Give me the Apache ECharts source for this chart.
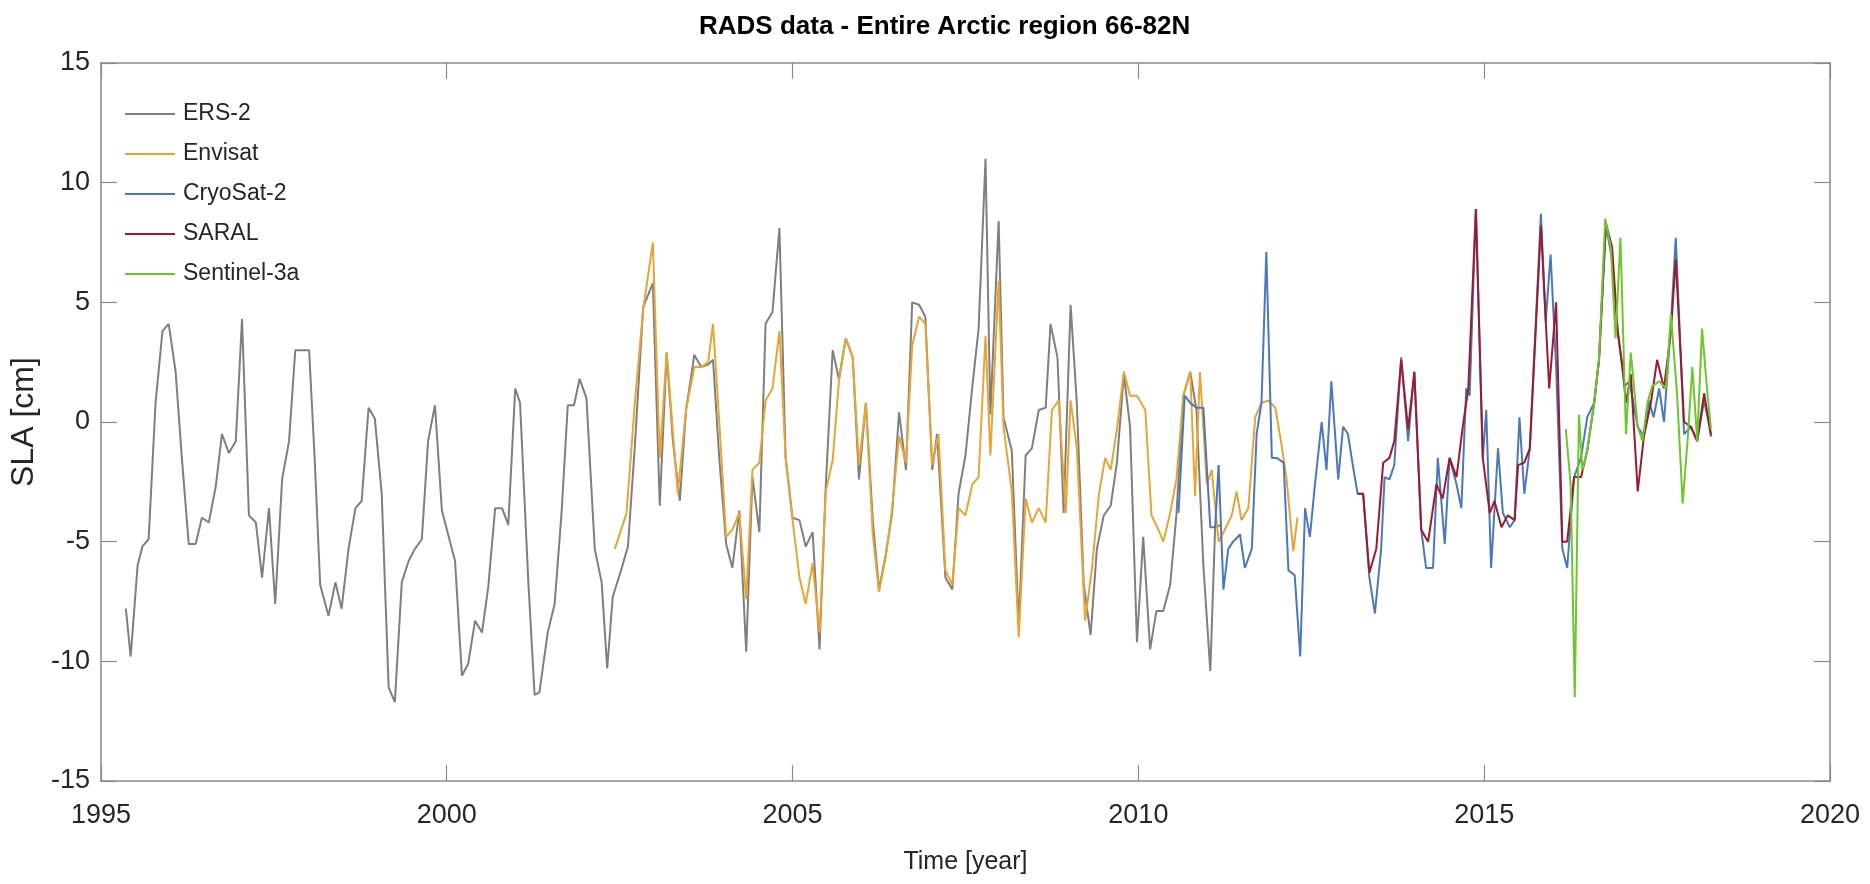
<!DOCTYPE html>
<html>
<head>
<meta charset="utf-8">
<title>RADS data - Entire Arctic region 66-82N</title>
<script src="https://cdn.jsdelivr.net/npm/echarts/dist/echarts.min.js"></script>
<style>
  html, body { margin: 0; padding: 0; background: #fff; }
  #chart { width: 1870px; height: 884px; }
</style>
</head>
<body>
<div id="chart"></div>
<script>
// monthly SLA [cm] as [year, value]
const ers2 = [
  [1995.36,-7.8],[1995.43,-9.8],[1995.53,-6.0],[1995.60,-5.2],[1995.69,-4.9],[1995.79,0.8],[1995.89,3.8],[1995.98,4.1],
  [1996.08,2.1],[1996.17,-1.5],[1996.27,-5.1],[1996.37,-5.1],[1996.46,-4.0],[1996.56,-4.2],[1996.66,-2.7],[1996.75,-0.5],
  [1996.85,-1.3],[1996.95,-0.8],[1997.04,4.3],[1997.14,-3.9],[1997.24,-4.2],[1997.33,-6.5],[1997.43,-3.6],[1997.52,-7.6],
  [1997.62,-2.4],[1997.72,-0.8],[1997.81,3.0],[1997.91,3.0],[1998.01,3.0],[1998.09,-1.5],[1998.17,-6.8],[1998.29,-8.1],
  [1998.39,-6.7],[1998.48,-7.8],[1998.58,-5.3],[1998.68,-3.6],[1998.77,-3.3],[1998.87,0.6],[1998.96,0.15],[1999.06,-3.0],
  [1999.16,-11.1],[1999.25,-11.7],[1999.35,-6.7],[1999.45,-5.8],[1999.54,-5.3],[1999.64,-4.9],[1999.73,-0.8],[1999.83,0.7],
  [1999.93,-3.7],[2000.02,-4.7],[2000.12,-5.8],[2000.22,-10.6],[2000.31,-10.1],[2000.41,-8.3],[2000.51,-8.8],[2000.60,-6.9],
  [2000.70,-3.6],[2000.80,-3.6],[2000.89,-4.3],[2000.99,1.4],[2001.06,0.8],[2001.18,-6.7],[2001.27,-11.4],[2001.34,-11.3],
  [2001.46,-8.8],[2001.56,-7.6],[2001.66,-3.8],[2001.75,0.7],[2001.84,0.7],[2001.92,1.8],[2002.02,1.0],[2002.14,-5.3],
  [2002.24,-6.7],[2002.32,-10.3],[2002.40,-7.3],[2002.52,-6.2],[2002.62,-5.2],[2002.72,-1.0],[2002.84,4.8],[2002.98,5.8],
  [2003.08,-3.5],[2003.18,2.9],[2003.27,-0.8],[2003.37,-3.3],[2003.46,0.5],[2003.58,2.8],[2003.68,2.3],[2003.78,2.4],
  [2003.85,2.6],[2003.94,-1.5],[2004.04,-5.1],[2004.13,-6.1],[2004.23,-3.7],[2004.33,-9.6],[2004.42,-2.3],[2004.52,-4.6],
  [2004.61,4.1],[2004.71,4.6],[2004.81,8.1],[2004.90,-1.5],[2005.00,-4.0],[2005.10,-4.1],[2005.19,-5.2],[2005.29,-4.6],
  [2005.39,-9.5],[2005.48,-2.7],[2005.58,3.0],[2005.67,1.8],[2005.77,3.5],[2005.87,2.7],[2005.96,-2.4],[2006.06,0.8],
  [2006.16,-4.1],[2006.25,-7.0],[2006.35,-5.5],[2006.44,-3.8],[2006.54,0.4],[2006.64,-2.0],[2006.73,5.0],[2006.83,4.9],
  [2006.92,4.4],[2007.02,-2.0],[2007.09,-0.5],[2007.21,-6.5],[2007.31,-7.0],[2007.40,-3.0],[2007.50,-1.4],[2007.60,1.5],
  [2007.69,3.9],[2007.79,11.0],[2007.86,0.3],[2007.98,8.4],[2008.05,0.2],[2008.17,-1.2],[2008.27,-8.5],[2008.37,-1.4],
  [2008.46,-1.1],[2008.56,0.5],[2008.66,0.6],[2008.73,4.1],[2008.83,2.7],[2008.92,-3.8],[2009.02,4.9],[2009.11,0.8],
  [2009.21,-6.8],[2009.31,-8.9],[2009.40,-5.3],[2009.50,-3.9],[2009.60,-3.5],[2009.69,-1.7],[2009.79,2.0],[2009.88,-0.2],
  [2009.98,-9.2],[2010.07,-4.8],[2010.17,-9.5],[2010.26,-7.9],[2010.36,-7.9],[2010.46,-6.8],[2010.55,-3.9],[2010.65,1.1],
  [2010.75,2.1],[2010.84,0.5],[2010.94,-6.0],[2011.04,-10.4],[2011.11,-4.4],[2011.19,-4.3]
];

const envisat = [
  [2002.43,-5.3],[2002.51,-4.6],[2002.60,-3.8],[2002.72,0.8],[2002.84,4.7],[2002.98,7.5],[2003.08,-1.5],[2003.18,2.9],
  [2003.34,-3.0],[2003.46,0.5],[2003.58,2.3],[2003.68,2.3],[2003.78,2.5],[2003.85,4.1],[2003.94,0.0],[2004.04,-4.8],
  [2004.13,-4.5],[2004.23,-3.8],[2004.33,-7.4],[2004.42,-2.0],[2004.52,-1.7],[2004.61,0.9],[2004.71,1.4],[2004.81,3.8],
  [2004.90,-1.5],[2005.00,-4.1],[2005.10,-6.5],[2005.19,-7.6],[2005.29,-5.9],[2005.39,-8.8],[2005.48,-2.9],[2005.58,-1.6],
  [2005.67,1.7],[2005.77,3.5],[2005.87,2.7],[2005.96,-1.8],[2006.06,0.8],[2006.16,-4.7],[2006.25,-7.1],[2006.35,-5.6],
  [2006.44,-3.6],[2006.54,-0.6],[2006.64,-1.7],[2006.73,3.2],[2006.83,4.4],[2006.92,4.1],[2007.02,-1.8],[2007.11,-0.5],
  [2007.21,-6.2],[2007.31,-6.8],[2007.40,-3.6],[2007.50,-3.9],[2007.60,-2.6],[2007.69,-2.3],[2007.79,3.6],[2007.86,-1.4],
  [2007.98,5.9],[2008.05,-0.2],[2008.17,-2.9],[2008.27,-9.0],[2008.37,-3.2],[2008.46,-4.2],[2008.56,-3.6],[2008.66,-4.2],
  [2008.75,0.5],[2008.85,0.9],[2008.95,-3.8],[2009.02,0.9],[2009.11,-1.1],[2009.23,-8.3],[2009.33,-6.1],[2009.43,-3.0],
  [2009.52,-1.5],[2009.60,-2.0],[2009.69,-0.3],[2009.79,2.1],[2009.88,1.1],[2009.98,1.1],[2010.10,0.5],[2010.19,-3.9],
  [2010.29,-4.5],[2010.36,-5.0],[2010.46,-3.8],[2010.55,-2.4],[2010.65,1.1],[2010.75,2.1],[2010.82,-3.1],[2010.89,2.1],
  [2010.99,-2.6],[2011.06,-2.0],[2011.16,-5.0],[2011.25,-4.5],[2011.35,-3.9],[2011.42,-2.9],[2011.49,-4.1],[2011.59,-3.6],
  [2011.69,0.2],[2011.78,0.8],[2011.88,0.9],[2011.98,0.6],[2012.05,-0.6],[2012.14,-2.3],[2012.24,-5.4],[2012.30,-4.0]
];

const cryosat2 = [
  [2010.58,-3.8],[2010.67,1.1],[2010.75,0.8],[2010.84,0.6],[2010.94,0.6],[2011.04,-4.4],[2011.11,-4.4],[2011.16,-1.8],
  [2011.23,-7.0],[2011.30,-5.3],[2011.37,-5.0],[2011.47,-4.7],[2011.54,-6.1],[2011.64,-5.3],[2011.71,-0.5],[2011.78,0.8],
  [2011.85,7.1],[2011.93,-1.5],[2012.00,-1.5],[2012.10,-1.7],[2012.17,-6.2],[2012.26,-6.4],[2012.34,-9.8],[2012.41,-3.6],
  [2012.48,-4.8],[2012.55,-2.7],[2012.65,0.0],[2012.72,-2.0],[2012.79,1.7],[2012.89,-2.4],[2012.96,-0.2],[2013.03,-0.5],
  [2013.10,-1.8],[2013.17,-3.0],[2013.25,-3.0],[2013.34,-6.5],[2013.42,-8.0],[2013.51,-5.3],[2013.56,-2.3],[2013.63,-2.4],
  [2013.70,-1.8],[2013.80,2.7],[2013.90,-0.8],[2013.99,2.1],[2014.09,-4.5],[2014.16,-6.1],[2014.26,-6.1],[2014.33,-1.5],
  [2014.43,-5.1],[2014.50,-1.5],[2014.60,-2.6],[2014.67,-3.6],[2014.74,1.4],[2014.79,1.1],[2014.88,8.9],[2014.98,-1.5],
  [2015.03,0.5],[2015.10,-6.1],[2015.20,-1.1],[2015.27,-3.8],[2015.37,-4.4],[2015.44,-4.1],[2015.51,0.2],[2015.58,-3.0],
  [2015.66,-1.1],[2015.82,8.7],[2015.89,4.2],[2015.96,7.0],[2016.04,2.3],[2016.13,-5.3],[2016.20,-6.1],[2016.30,-2.3],
  [2016.40,-1.5],[2016.49,0.2],[2016.59,0.8],[2016.66,2.6],[2016.76,8.2],[2016.85,6.8],[2016.93,3.8],[2017.03,1.5],
  [2017.10,1.7],[2017.22,-0.2],[2017.31,-0.6],[2017.38,0.9],[2017.45,0.2],[2017.53,1.4],[2017.60,0.0],[2017.70,4.1],
  [2017.77,7.7],[2017.89,-0.5],[2017.99,-0.2],[2018.08,-0.8],[2018.18,0.9],[2018.28,-0.5]
];

const saral = [
  [2013.17,-3.0],[2013.25,-3.0],[2013.34,-6.3],[2013.44,-5.3],[2013.54,-1.7],[2013.63,-1.5],[2013.70,-0.8],[2013.80,2.6],
  [2013.90,-0.3],[2013.99,2.1],[2014.09,-4.5],[2014.19,-5.0],[2014.31,-2.6],[2014.40,-3.2],[2014.50,-1.5],[2014.60,-2.3],
  [2014.69,-0.2],[2014.77,1.4],[2014.88,8.9],[2014.98,-1.5],[2015.08,-3.8],[2015.15,-3.3],[2015.25,-4.4],[2015.34,-3.9],
  [2015.44,-4.1],[2015.49,-1.8],[2015.58,-1.7],[2015.66,-1.1],[2015.82,8.2],[2015.94,1.4],[2016.04,5.0],[2016.13,-5.0],
  [2016.20,-5.0],[2016.30,-2.3],[2016.40,-2.3],[2016.49,-1.2],[2016.59,0.8],[2016.66,2.6],[2016.76,8.3],[2016.85,7.3],
  [2016.93,3.8],[2017.00,2.3],[2017.05,0.8],[2017.12,2.0],[2017.22,-2.9],[2017.31,-0.6],[2017.41,0.8],[2017.50,2.6],
  [2017.60,1.4],[2017.70,3.8],[2017.77,6.8],[2017.89,0.0],[2017.99,-0.2],[2018.08,-0.8],[2018.18,1.2],[2018.28,-0.6]
];

const sentinel3a = [
  [2016.18,-0.3],[2016.25,-2.6],[2016.31,-11.5],[2016.37,0.3],[2016.42,-2.0],[2016.49,-1.2],[2016.59,0.8],[2016.66,2.6],
  [2016.75,8.5],[2016.83,7.3],[2016.90,3.5],[2016.97,7.7],[2017.05,-0.5],[2017.12,2.9],[2017.22,-0.2],[2017.29,-0.8],
  [2017.36,0.8],[2017.43,1.5],[2017.53,1.7],[2017.63,1.4],[2017.70,4.5],[2017.79,1.1],[2017.87,-3.4],[2017.94,-0.8],
  [2018.01,2.3],[2018.08,-0.8],[2018.15,3.9],[2018.23,1.1],[2018.28,-0.3]
];

const seriesNames = ['ERS-2', 'Envisat', 'CryoSat-2', 'SARAL', 'Sentinel-3a'];
const seriesData = [ers2, envisat, cryosat2, saral, sentinel3a];
const seriesColors = ['#7f7f7f', '#e8a535', '#4a78bb', '#9c1b2e', '#6cc72c'];

const chart = echarts.init(document.getElementById('chart'));

const font = 'Liberation Sans, Arial, Helvetica, sans-serif';
const axisGray = '#8a8a8a';
const textDark = '#262626';

const boxAxis = {
  type: 'value',
  axisLine: { show: true, onZero: false, lineStyle: { color: axisGray, width: 1.5 } },
  axisTick: { show: true, inside: true, length: 16, lineStyle: { color: axisGray, width: 1.2 } },
  splitLine: { show: false }
};

chart.setOption({
  animation: false,
  backgroundColor: '#ffffff',
  textStyle: { fontFamily: font },
  title: {
    text: 'RADS data - Entire Arctic region 66-82N',
    left: 699,
    top: 14,
    padding: 0,
    textStyle: { fontSize: 26, fontWeight: 'bold', color: '#000', fontFamily: font }
  },
  legend: {
    orient: 'vertical',
    left: 125,
    top: 102,
    padding: 0,
    icon: 'rect',
    itemWidth: 50,
    itemHeight: 2,
    itemGap: 16,
    data: seriesNames,
    textStyle: { fontSize: 23, color: textDark, fontFamily: font, lineHeight: 24, padding: [0, 0, 0, 3] }
  },
  grid: { left: 100, right: 40, top: 63, bottom: 103, containLabel: false },
  xAxis: [
    Object.assign({}, boxAxis, {
      position: 'bottom',
      min: 1995, max: 2020, interval: 5,
      name: 'Time [year]',
      nameLocation: 'middle',
      nameGap: 69,
      nameTextStyle: { fontSize: 25, color: textDark, fontFamily: font },
      axisLabel: { fontSize: 27, color: textDark, margin: 21, fontFamily: font, formatter: v => String(v) }
    }),
    Object.assign({}, boxAxis, {
      position: 'top',
      min: 1995, max: 2020, interval: 5,
      axisLabel: { show: false }
    })
  ],
  yAxis: [
    Object.assign({}, boxAxis, {
      position: 'left',
      min: -15, max: 15, interval: 5,
      name: 'SLA [cm]',
      nameLocation: 'middle',
      nameGap: 60,
      nameTextStyle: { fontSize: 32, color: textDark, fontFamily: font },
      axisLabel: { fontSize: 27, color: textDark, margin: 11, fontFamily: font }
    }),
    Object.assign({}, boxAxis, {
      position: 'right',
      min: -15, max: 15, interval: 5,
      axisLabel: { show: false }
    })
  ],
  series: seriesNames.map((name, i) => ({
    name: name,
    type: 'line',
    xAxisIndex: 0,
    yAxisIndex: 0,
    data: seriesData[i],
    symbol: 'none',
    showSymbol: false,
    color: seriesColors[i],
    lineStyle: { width: 2, color: seriesColors[i] },
    itemStyle: { color: seriesColors[i] },
    z: 2 + i
  }))
});
</script>
</body>
</html>
